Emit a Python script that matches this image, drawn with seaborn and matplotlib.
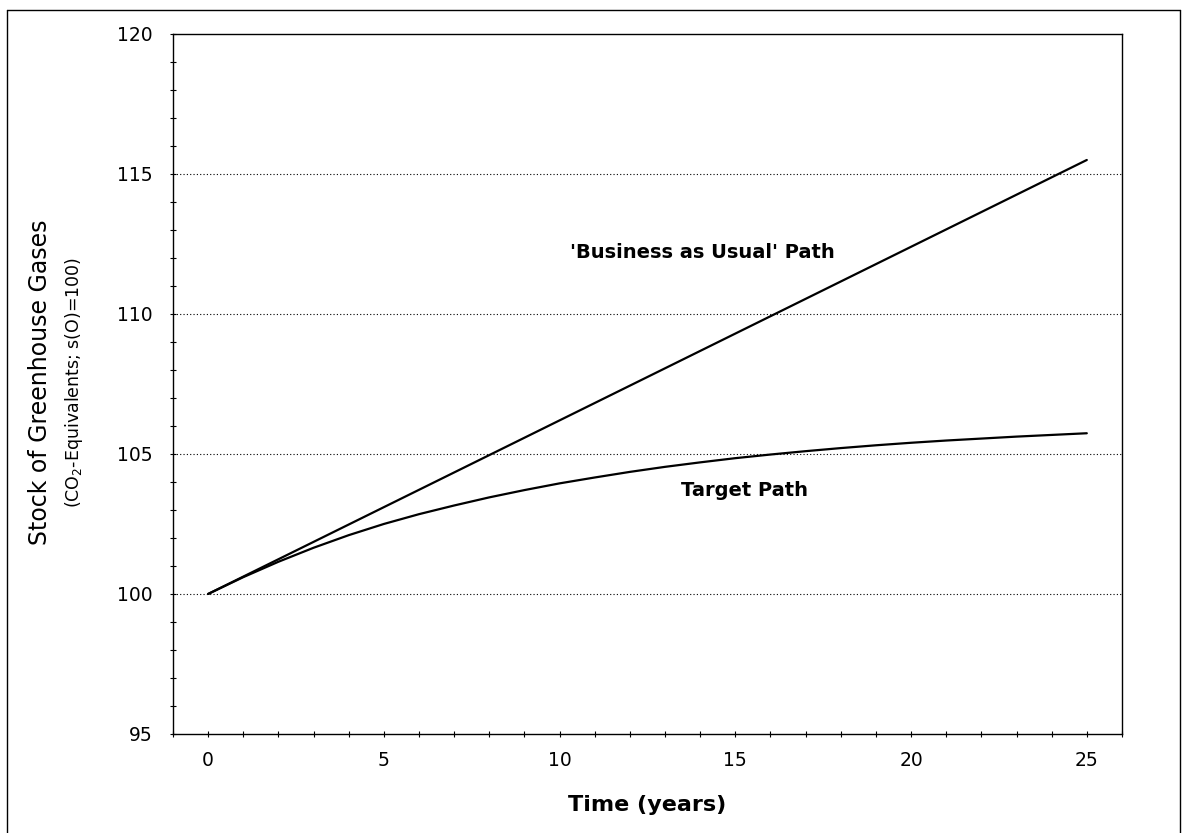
import matplotlib
matplotlib.use("Agg")
import numpy as np
import pandas as pd
import matplotlib.pyplot as plt
from matplotlib.ticker import MultipleLocator
from matplotlib.lines import Line2D
import seaborn as sns

# values
years = [0, 1, 2, 3, 4, 5, 6, 7, 8, 9, 10, 11, 12, 13, 14, 15, 16, 17, 18, 19, 20, 21, 22, 23, 24, 25]
bau_path = [100.0, 100.62, 101.24, 101.86, 102.48, 103.1, 103.72, 104.34, 104.96, 105.58, 106.2,
            106.82, 107.44, 108.06, 108.68, 109.3, 109.92, 110.54, 111.16, 111.78, 112.4,
            113.02, 113.64, 114.26, 114.88, 115.5]
target_path = [100.0, 100.6, 101.15, 101.65, 102.1, 102.5, 102.85, 103.16, 103.45, 103.71, 103.95,
               104.16, 104.36, 104.54, 104.7, 104.85, 104.98, 105.1, 105.21, 105.31, 105.4,
               105.48, 105.55, 105.62, 105.68, 105.74]
x_ticks = [0, 5, 10, 15, 20, 25]
y_ticks = [95, 100, 105, 110, 115, 120]
grid_levels = [100, 105, 110, 115]

df = pd.DataFrame({
    "year": years * 2,
    "stock": bau_path + target_path,
    "path": ["bau"] * len(years) + ["target"] * len(years),
})

sns.set_style("white")
plt.rcParams["font.family"] = ["DejaVu Sans"]
plt.rcParams["text.color"] = "black"

fig = plt.figure(figsize=(11.88, 8.33), dpi=100)
ax = fig.add_axes([0.1456, 0.1189, 0.7988, 0.8403])

for lvl in grid_levels:
    ax.axhline(lvl, color="black", lw=0.8, ls=(0, (1, 2)), zorder=1)

sns.lineplot(data=df, x="year", y="stock", hue="path", palette=["black", "black"],
             lw=1.6, legend=False, ax=ax, zorder=3)

ax.set_xlim(-1, 26)
ax.set_ylim(95, 120)
ax.set_xticks(x_ticks)
ax.set_yticks(y_ticks)
ax.xaxis.set_minor_locator(MultipleLocator(1))
ax.yaxis.set_minor_locator(MultipleLocator(1))
ax.tick_params(axis="both", which="both", direction="inout", length=5, width=0.8,
               colors="black", bottom=True, left=True, top=False, right=False)
ax.tick_params(axis="x", which="major", pad=10, labelsize=13.5)
ax.tick_params(axis="y", which="major", pad=12, labelsize=13.5)
for sp in ax.spines.values():
    sp.set_visible(True)
    sp.set_color("black")
    sp.set_linewidth(1.0)

ax.set_xlabel("Time (years)", fontsize=16, fontweight="bold", labelpad=18, color="black")
ax.set_ylabel("")

ax.text(14.06, 112.18, "'Business as Usual' Path", fontsize=14, fontweight="bold",
        ha="center", va="center")
ax.text(15.26, 103.71, "Target Path", fontsize=14, fontweight="bold",
        ha="center", va="center")

fig.text(0.034, 0.541, "Stock of Greenhouse Gases", rotation=90, fontsize=17,
         ha="center", va="center")
fig.text(0.062, 0.541, "(CO$_2$-Equivalents; s(O)=100)", rotation=90, fontsize=12.5,
         ha="center", va="center")

# outer frame of the scanned page
fx0, fx1, fy1 = 7 / 1188, 1180 / 1188, 1 - 10 / 833
for xs, ys in [([fx0, fx0], [0, fy1]), ([fx0, fx1], [fy1, fy1]), ([fx1, fx1], [fy1, 0])]:
    fig.add_artist(Line2D(xs, ys, color="black", lw=1.0, transform=fig.transFigure))

fig.savefig("out.png", dpi=100)
